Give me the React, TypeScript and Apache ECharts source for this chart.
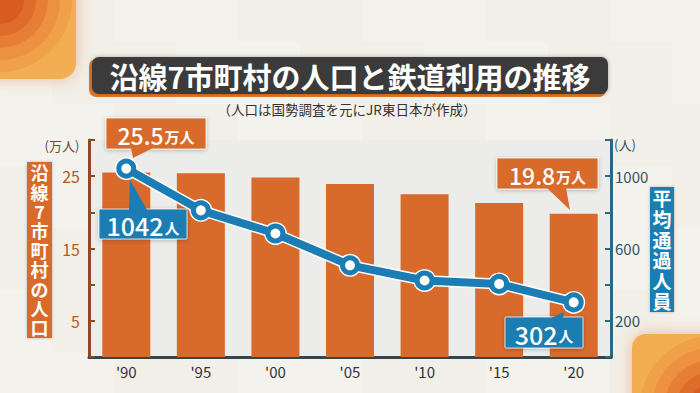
import { useEffect, useRef } from "react";
import * as echarts from "echarts";

const categories = ["'90", "'95", "'00", "'05", "'10", "'15", "'20"];
const population = [25.5, 25.4, 24.8, 23.9, 22.5, 21.3, 19.8]; // 万人
const passengers = [1042, 811, 683, 507, 423, 404, 302]; // 人
const leftTickLabels = [5, 15, 25];
const rightTickLabels = [200, 600, 1000];
const titleText = "沿線7市町村の人口と鉄道利用の推移";
const subtitleText = "（人口は国勢調査を元にJR東日本が作成）";
const leftAxisTitle = "沿線7市町村の人口";
const rightAxisTitle = "平均通過人員";
const leftUnit = "(万人)";
const rightUnit = "(人)";

const FONT = '"Noto Sans CJK JP", "Noto Sans", sans-serif';
const ORANGE = "#d86a2b";
const BLUE = "#1b7db3";

function bgTiles() {
  const shades = ["#f2efe8", "#eeeae1", "#f4f2ec", "#f0ece4"];
  const out: any[] = [];
  const size = 62;
  for (let r = 0; r < 7; r++) {
    for (let c = 0; c < 12; c++) {
      const idx = (r * 5 + c * 3 + ((r + c) % 2)) % shades.length;
      out.push({
        type: "rect",
        z: -20,
        silent: true,
        shape: { x: c * size - 10, y: r * size - 20, width: size, height: size },
        style: { fill: shades[idx] },
      });
    }
  }
  return out;
}

function verticalText(text: string, cx: number, top: number, step: number, size: number) {
  return text.split("").map((ch, i) => ({
    type: "text",
    z: 51,
    x: cx,
    y: top + step * (i + 0.5),
    style: {
      text: ch,
      fill: "#fff",
      fontSize: size,
      fontWeight: "bold",
      fontFamily: FONT,
      align: "center",
      verticalAlign: "middle",
    },
  }));
}

function callout(
  box: [number, number, number, number],
  tail: number[][],
  color: string,
  num: string,
  unit: string,
  numSize: number
) {
  const [x, y, w, h] = box;
  return [
    {
      type: "rect",
      z: 100,
      shape: { x, y, width: w, height: h, r: 1 },
      style: {
        fill: color,
        stroke: "rgba(255,255,255,0.75)",
        lineWidth: 1,
        shadowBlur: 4,
        shadowColor: "rgba(0,0,0,0.25)",
        shadowOffsetY: 1,
      },
    },
    {
      type: "polygon",
      z: 101,
      shape: { points: tail },
      style: { fill: color },
    },
    {
      type: "text",
      z: 102,
      x: x + w / 2,
      y: y + h / 2 + 1,
      style: {
        text: `{n|${num}}{u|${unit}}`,
        align: "center",
        verticalAlign: "middle",
        rich: {
          n: { fontSize: numSize, fontFamily: FONT, fill: "#fff", fontWeight: 500 },
          u: { fontSize: 15, fontFamily: FONT, fill: "#fff", fontWeight: "bold", padding: [4, 0, 0, 1] },
        },
      },
    },
  ];
}

export default function App() {
  const ref = useRef<HTMLDivElement>(null);
  useEffect(() => {
    const chart = echarts.init(ref.current!, null, { renderer: "svg" });

    const rings = [
      [72, "#f0a048"],
      [60, "#ec913f"],
      [48, "#e67e35"],
      [36, "#e06c2b"],
      [24, "#da5b22"],
    ];

    const graphics: any[] = [
      ...bgTiles(),
      // top-left decoration
      {
        type: "rect",
        z: -10,
        silent: true,
        shape: { x: -20, y: -20, width: 96, height: 99, r: 16 },
        style: { fill: "#f3ad52", shadowBlur: 16, shadowColor: "rgba(225,120,60,0.45)" },
      },
      ...rings.map(([r, c]) => ({
        type: "circle",
        z: -9,
        silent: true,
        shape: { cx: 0, cy: 0, r },
        style: { fill: c },
      })),
      // bottom-right decoration
      {
        type: "rect",
        z: -10,
        silent: true,
        shape: { x: 632, y: 334, width: 100, height: 100, r: 14 },
        style: { fill: "#f3ad52", shadowBlur: 16, shadowColor: "rgba(225,120,60,0.45)" },
      },
      ...rings.map(([r, c]) => ({
        type: "circle",
        z: -9,
        silent: true,
        shape: { cx: 712, cy: 408, r },
        style: { fill: c },
      })),
      // title box
      {
        type: "rect",
        z: 50,
        shape: { x: 89, y: 59, width: 517, height: 38, r: 7 },
        style: { fill: "#e07a2c" },
      },
      {
        type: "rect",
        z: 51,
        shape: { x: 92, y: 57, width: 516, height: 37, r: 7 },
        style: { fill: "#3a3a3a", shadowBlur: 4, shadowColor: "rgba(0,0,0,0.3)" },
      },
      {
        type: "text",
        z: 52,
        x: 350,
        y: 76,
        style: {
          text: titleText,
          fill: "#ffffff",
          fontSize: 29,
          fontWeight: "bold",
          fontFamily: FONT,
          align: "center",
          verticalAlign: "middle",
        },
      },
      {
        type: "text",
        z: 52,
        x: 347,
        y: 109,
        style: {
          text: subtitleText,
          fill: "#333333",
          fontSize: 13.5,
          fontFamily: FONT,
          align: "center",
          verticalAlign: "middle",
        },
      },
      // left axis title
      {
        type: "rect",
        z: 50,
        shape: { x: 27, y: 162, width: 25, height: 176 },
        style: { fill: ORANGE, shadowBlur: 3, shadowColor: "rgba(0,0,0,0.25)" },
      },
      ...verticalText(leftAxisTitle, 39.5, 162.5, 19.4, 18),
      // right axis title
      {
        type: "rect",
        z: 50,
        shape: { x: 650, y: 187, width: 24, height: 125 },
        style: { fill: BLUE, shadowBlur: 3, shadowColor: "rgba(0,0,0,0.25)" },
      },
      ...verticalText(rightAxisTitle, 662, 187.5, 20.6, 19),
      // units
      {
        type: "text",
        z: 50,
        x: 62,
        y: 145,
        style: {
          text: leftUnit,
          fill: "#6b4a36",
          fontSize: 13,
          fontFamily: FONT,
          align: "center",
          verticalAlign: "middle",
        },
      },
      {
        type: "text",
        z: 50,
        x: 625,
        y: 144,
        style: {
          text: rightUnit,
          fill: "#2f5566",
          fontSize: 13,
          fontFamily: FONT,
          align: "center",
          verticalAlign: "middle",
        },
      },
      // callouts
      ...callout([106, 118, 100, 31], [[131, 148], [153, 148], [133, 158]], ORANGE, String(population[0]), "万人", 23),
      ...callout([99, 209, 88, 30], [[129, 210], [147, 210], [130, 180]], BLUE, String(passengers[0]), "人", 25),
      ...callout([497, 158, 101, 31], [[547, 188], [566, 188], [570, 210]], ORANGE, String(population[6]), "万人", 23),
      ...callout([505, 317, 78, 31], [[551, 318], [563, 318], [564, 312]], BLUE, String(passengers[6]), "人", 25),
    ];

    chart.setOption({
      animation: false,
      backgroundColor: "#f0ede6",
      grid: {
        left: 89,
        right: 89,
        top: 140,
        bottom: 36,
        show: true,
        backgroundColor: "#ececea",
        borderWidth: 0,
      },
      xAxis: {
        type: "category",
        data: categories,
        axisLine: { lineStyle: { color: "#34454d", width: 3 } },
        axisTick: { show: false },
        axisLabel: { color: "#333333", fontSize: 15, fontFamily: FONT, margin: 7 },
      },
      yAxis: [
        {
          type: "value",
          min: 0,
          max: 30,
          interval: 5,
          splitLine: { show: false },
          axisLine: { show: true, lineStyle: { color: "#8f4a22", width: 3 } },
          axisTick: { show: true, inside: true, length: 6, lineStyle: { color: "#8f4a22", width: 2 } },
          axisLabel: {
            color: "#b65a24",
            fontSize: 16,
            fontFamily: FONT,
            margin: 9,
            formatter: (v: number) => (leftTickLabels.includes(v) ? String(v) : ""),
          },
        },
        {
          type: "value",
          min: 0,
          max: 1200,
          interval: 200,
          splitLine: { show: false },
          axisLine: { show: true, lineStyle: { color: "#2a6a80", width: 3 } },
          axisTick: { show: true, inside: true, length: 6, lineStyle: { color: "#2a6a80", width: 2 } },
          axisLabel: {
            color: "#2f5566",
            fontSize: 15,
            fontFamily: FONT,
            margin: 4,
            formatter: (v: number) => (rightTickLabels.includes(v) ? String(v) : ""),
          },
        },
      ],
      series: [
        {
          type: "bar",
          data: population,
          yAxisIndex: 0,
          barWidth: 48,
          itemStyle: { color: ORANGE },
          z: 2,
        },
        {
          type: "line",
          data: passengers,
          yAxisIndex: 1,
          silent: true,
          lineStyle: { color: "#ffffff", width: 11 },
          symbol: "circle",
          symbolSize: 23,
          itemStyle: { color: "#ffffff" },
          z: 3,
        },
        {
          type: "line",
          data: passengers,
          yAxisIndex: 1,
          lineStyle: { color: BLUE, width: 8 },
          symbol: "circle",
          symbolSize: 15,
          itemStyle: { color: "#ffffff", borderColor: BLUE, borderWidth: 5 },
          z: 4,
        },
      ],
      graphic: graphics,
    });

    return () => chart.dispose();
  }, []);
  return <div ref={ref} style={{ position: "fixed", left: 0, top: 0, width: 700, height: 393 }} />;
}
